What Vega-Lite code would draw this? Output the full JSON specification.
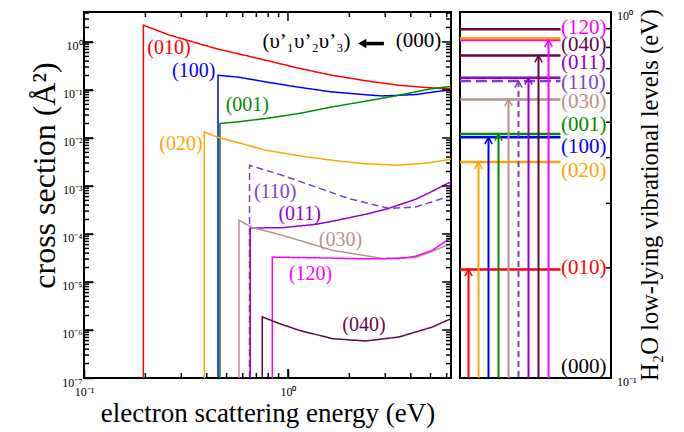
{
  "$schema": "https://vega.github.io/schema/vega-lite/v6.json",
  "background": "white",
  "padding": {"left": 27, "top": 8, "right": 5, "bottom": 5},
  "spacing": 2,
  "config": {
    "font": "Liberation Serif",
    "view": {"stroke": "black", "strokeWidth": 2},
    "axis": {"domain": false, "grid": false, "labelColor": "black", "titleColor": "black", "labelFont": "Liberation Serif", "titleFont": "Liberation Serif", "titleFontWeight": "normal", "labelFlush": false, "labelOverlap": false, "labelBound": false}
  },
  "datasets": {
    "curves": [
      {"series": "(010)", "i": 0, "E": 0.1955, "cs": 1e-7},
      {"series": "(010)", "i": 1, "E": 0.1955, "cs": 2.23},
      {"series": "(010)", "i": 2, "E": 0.261, "cs": 1.4},
      {"series": "(010)", "i": 3, "E": 0.442, "cs": 0.729},
      {"series": "(010)", "i": 4, "E": 0.778, "cs": 0.416},
      {"series": "(010)", "i": 5, "E": 1.133, "cs": 0.283},
      {"series": "(010)", "i": 6, "E": 1.643, "cs": 0.202},
      {"series": "(010)", "i": 7, "E": 2.4, "cs": 0.1555},
      {"series": "(010)", "i": 8, "E": 3.5, "cs": 0.125},
      {"series": "(010)", "i": 9, "E": 4.91, "cs": 0.111},
      {"series": "(010)", "i": 10, "E": 6.3, "cs": 0.106},
      {"series": "(100)", "i": 0, "E": 0.454, "cs": 1e-7},
      {"series": "(100)", "i": 1, "E": 0.454, "cs": 0.202},
      {"series": "(100)", "i": 2, "E": 0.575, "cs": 0.184},
      {"series": "(100)", "i": 3, "E": 0.778, "cs": 0.147},
      {"series": "(100)", "i": 4, "E": 1.133, "cs": 0.1138},
      {"series": "(100)", "i": 5, "E": 1.643, "cs": 0.0908},
      {"series": "(100)", "i": 6, "E": 2.4, "cs": 0.0794},
      {"series": "(100)", "i": 7, "E": 2.9, "cs": 0.075},
      {"series": "(100)", "i": 8, "E": 4.23, "cs": 0.08},
      {"series": "(100)", "i": 9, "E": 5.26, "cs": 0.0917},
      {"series": "(100)", "i": 10, "E": 6.3, "cs": 0.101},
      {"series": "(001)", "i": 0, "E": 0.464, "cs": 1e-7},
      {"series": "(001)", "i": 1, "E": 0.464, "cs": 0.02},
      {"series": "(001)", "i": 2, "E": 0.575, "cs": 0.0218},
      {"series": "(001)", "i": 3, "E": 0.778, "cs": 0.0254},
      {"series": "(001)", "i": 4, "E": 1.133, "cs": 0.0323},
      {"series": "(001)", "i": 5, "E": 1.643, "cs": 0.0443},
      {"series": "(001)", "i": 6, "E": 2.4, "cs": 0.0582},
      {"series": "(001)", "i": 7, "E": 3.5, "cs": 0.0776},
      {"series": "(001)", "i": 8, "E": 4.91, "cs": 0.1035},
      {"series": "(001)", "i": 9, "E": 6.3, "cs": 0.119},
      {"series": "(020)", "i": 0, "E": 0.389, "cs": 1e-7},
      {"series": "(020)", "i": 1, "E": 0.389, "cs": 0.0133},
      {"series": "(020)", "i": 2, "E": 0.459, "cs": 0.0101},
      {"series": "(020)", "i": 3, "E": 0.575, "cs": 0.0079},
      {"series": "(020)", "i": 4, "E": 0.778, "cs": 0.00555},
      {"series": "(020)", "i": 5, "E": 1.133, "cs": 0.00426},
      {"series": "(020)", "i": 6, "E": 1.643, "cs": 0.00343},
      {"series": "(020)", "i": 7, "E": 2.4, "cs": 0.0029},
      {"series": "(020)", "i": 8, "E": 3.5, "cs": 0.0027},
      {"series": "(020)", "i": 9, "E": 4.91, "cs": 0.00304},
      {"series": "(020)", "i": 10, "E": 6.3, "cs": 0.0036},
      {"series": "(110)", "i": 0, "E": 0.648, "cs": 1e-7},
      {"series": "(110)", "i": 1, "E": 0.648, "cs": 0.0027},
      {"series": "(110)", "i": 2, "E": 0.937, "cs": 0.00167},
      {"series": "(110)", "i": 3, "E": 1.37, "cs": 0.00095},
      {"series": "(110)", "i": 4, "E": 1.99, "cs": 0.000546},
      {"series": "(110)", "i": 5, "E": 3.13, "cs": 0.000339},
      {"series": "(110)", "i": 6, "E": 4.23, "cs": 0.000365},
      {"series": "(110)", "i": 7, "E": 6.04, "cs": 0.00059},
      {"series": "(110)", "i": 8, "E": 6.3, "cs": 0.000625},
      {"series": "(011)", "i": 0, "E": 0.653, "cs": 1e-7},
      {"series": "(011)", "i": 1, "E": 0.653, "cs": 0.000133},
      {"series": "(011)", "i": 2, "E": 0.937, "cs": 0.000135},
      {"series": "(011)", "i": 3, "E": 1.37, "cs": 0.000159},
      {"series": "(011)", "i": 4, "E": 1.65, "cs": 0.000184},
      {"series": "(011)", "i": 5, "E": 2.4, "cs": 0.000257},
      {"series": "(011)", "i": 6, "E": 3.13, "cs": 0.000343},
      {"series": "(011)", "i": 7, "E": 4.23, "cs": 0.000528},
      {"series": "(011)", "i": 8, "E": 5.1, "cs": 0.000776},
      {"series": "(011)", "i": 9, "E": 6.04, "cs": 0.00112},
      {"series": "(011)", "i": 10, "E": 6.3, "cs": 0.00122},
      {"series": "(030)", "i": 0, "E": 0.575, "cs": 1e-7},
      {"series": "(030)", "i": 1, "E": 0.575, "cs": 0.000193},
      {"series": "(030)", "i": 2, "E": 0.668, "cs": 0.000136},
      {"series": "(030)", "i": 3, "E": 0.937, "cs": 0.000094},
      {"series": "(030)", "i": 4, "E": 1.65, "cs": 0.0000457},
      {"series": "(030)", "i": 5, "E": 2.9, "cs": 0.0000309},
      {"series": "(030)", "i": 6, "E": 4.23, "cs": 0.0000323},
      {"series": "(030)", "i": 7, "E": 6.04, "cs": 0.000058},
      {"series": "(030)", "i": 8, "E": 6.3, "cs": 0.0000625},
      {"series": "(120)", "i": 0, "E": 0.838, "cs": 1e-7},
      {"series": "(120)", "i": 1, "E": 0.838, "cs": 0.000033},
      {"series": "(120)", "i": 2, "E": 1.37, "cs": 0.0000319},
      {"series": "(120)", "i": 3, "E": 2.4, "cs": 0.0000304},
      {"series": "(120)", "i": 4, "E": 3.5, "cs": 0.0000308},
      {"series": "(120)", "i": 5, "E": 4.23, "cs": 0.0000343},
      {"series": "(120)", "i": 6, "E": 5.1, "cs": 0.0000457},
      {"series": "(120)", "i": 7, "E": 6.04, "cs": 0.000074},
      {"series": "(120)", "i": 8, "E": 6.3, "cs": 0.000081},
      {"series": "(040)", "i": 0, "E": 0.748, "cs": 1e-7},
      {"series": "(040)", "i": 1, "E": 0.748, "cs": 0.00000187},
      {"series": "(040)", "i": 2, "E": 0.9, "cs": 0.00000138},
      {"series": "(040)", "i": 3, "E": 1.133, "cs": 0.000000986},
      {"series": "(040)", "i": 4, "E": 1.65, "cs": 0.00000066},
      {"series": "(040)", "i": 5, "E": 2.4, "cs": 0.00000059},
      {"series": "(040)", "i": 6, "E": 3.5, "cs": 0.000000715},
      {"series": "(040)", "i": 7, "E": 5.1, "cs": 0.00000115},
      {"series": "(040)", "i": 8, "E": 6.04, "cs": 0.00000159},
      {"series": "(040)", "i": 9, "E": 6.3, "cs": 0.00000171}
    ],
    "labels": [
      {"series": "(010)", "E": 0.261, "cs": 0.739},
      {"series": "(100)", "E": 0.345, "cs": 0.245},
      {"series": "(001)", "E": 0.632, "cs": 0.048},
      {"series": "(020)", "E": 0.299, "cs": 0.00764},
      {"series": "(110)", "E": 0.866, "cs": 0.00075},
      {"series": "(011)", "E": 1.142, "cs": 0.000266},
      {"series": "(030)", "E": 1.81, "cs": 0.000074},
      {"series": "(120)", "E": 1.29, "cs": 0.0000145},
      {"series": "(040)", "E": 2.36, "cs": 0.00000125}
    ],
    "notes": [
      {"text": "(υ’₁υ’₂υ’₃)", "E": 1.232, "cs": 1.0},
      {"text": "(000)", "E": 4.37, "cs": 1.05}
    ],
    "arrow": [
      {"head": 2.313, "tail": 2.955, "cs": 0.926}
    ],
    "xticks": [
      {"v": 0.1, "major": true, "ylo": 1e-7, "yhi": 4.2}, {"v": 1, "major": true, "ylo": 1e-7, "yhi": 4.2},
      {"v": 0.2, "major": false, "ylo": 1e-7, "yhi": 4.2}, {"v": 0.3, "major": false, "ylo": 1e-7, "yhi": 4.2},
      {"v": 0.4, "major": false, "ylo": 1e-7, "yhi": 4.2}, {"v": 0.5, "major": false, "ylo": 1e-7, "yhi": 4.2},
      {"v": 0.6, "major": false, "ylo": 1e-7, "yhi": 4.2}, {"v": 0.7, "major": false, "ylo": 1e-7, "yhi": 4.2},
      {"v": 0.8, "major": false, "ylo": 1e-7, "yhi": 4.2}, {"v": 0.9, "major": false, "ylo": 1e-7, "yhi": 4.2},
      {"v": 2, "major": false, "ylo": 1e-7, "yhi": 4.2}, {"v": 3, "major": false, "ylo": 1e-7, "yhi": 4.2},
      {"v": 4, "major": false, "ylo": 1e-7, "yhi": 4.2}, {"v": 5, "major": false, "ylo": 1e-7, "yhi": 4.2},
      {"v": 6, "major": false, "ylo": 1e-7, "yhi": 4.2}
    ],
    "yticks": [
      {"v": 1e-7, "major": true, "xlo": 0.1, "xhi": 6.3}, {"v": 1e-6, "major": true, "xlo": 0.1, "xhi": 6.3},
      {"v": 1e-5, "major": true, "xlo": 0.1, "xhi": 6.3}, {"v": 1e-4, "major": true, "xlo": 0.1, "xhi": 6.3},
      {"v": 0.001, "major": true, "xlo": 0.1, "xhi": 6.3}, {"v": 0.01, "major": true, "xlo": 0.1, "xhi": 6.3},
      {"v": 0.1, "major": true, "xlo": 0.1, "xhi": 6.3}, {"v": 1, "major": true, "xlo": 0.1, "xhi": 6.3},
      {"v": 2e-7, "major": false, "xlo": 0.1, "xhi": 6.3}, {"v": 3e-7, "major": false, "xlo": 0.1, "xhi": 6.3}, {"v": 4e-7, "major": false, "xlo": 0.1, "xhi": 6.3}, {"v": 5e-7, "major": false, "xlo": 0.1, "xhi": 6.3},
      {"v": 6e-7, "major": false, "xlo": 0.1, "xhi": 6.3}, {"v": 7e-7, "major": false, "xlo": 0.1, "xhi": 6.3}, {"v": 8e-7, "major": false, "xlo": 0.1, "xhi": 6.3}, {"v": 9e-7, "major": false, "xlo": 0.1, "xhi": 6.3},
      {"v": 2e-6, "major": false, "xlo": 0.1, "xhi": 6.3}, {"v": 3e-6, "major": false, "xlo": 0.1, "xhi": 6.3}, {"v": 4e-6, "major": false, "xlo": 0.1, "xhi": 6.3}, {"v": 5e-6, "major": false, "xlo": 0.1, "xhi": 6.3},
      {"v": 6e-6, "major": false, "xlo": 0.1, "xhi": 6.3}, {"v": 7e-6, "major": false, "xlo": 0.1, "xhi": 6.3}, {"v": 8e-6, "major": false, "xlo": 0.1, "xhi": 6.3}, {"v": 9e-6, "major": false, "xlo": 0.1, "xhi": 6.3},
      {"v": 2e-5, "major": false, "xlo": 0.1, "xhi": 6.3}, {"v": 3e-5, "major": false, "xlo": 0.1, "xhi": 6.3}, {"v": 4e-5, "major": false, "xlo": 0.1, "xhi": 6.3}, {"v": 5e-5, "major": false, "xlo": 0.1, "xhi": 6.3},
      {"v": 6e-5, "major": false, "xlo": 0.1, "xhi": 6.3}, {"v": 7e-5, "major": false, "xlo": 0.1, "xhi": 6.3}, {"v": 8e-5, "major": false, "xlo": 0.1, "xhi": 6.3}, {"v": 9e-5, "major": false, "xlo": 0.1, "xhi": 6.3},
      {"v": 2e-4, "major": false, "xlo": 0.1, "xhi": 6.3}, {"v": 3e-4, "major": false, "xlo": 0.1, "xhi": 6.3}, {"v": 4e-4, "major": false, "xlo": 0.1, "xhi": 6.3}, {"v": 5e-4, "major": false, "xlo": 0.1, "xhi": 6.3},
      {"v": 6e-4, "major": false, "xlo": 0.1, "xhi": 6.3}, {"v": 7e-4, "major": false, "xlo": 0.1, "xhi": 6.3}, {"v": 8e-4, "major": false, "xlo": 0.1, "xhi": 6.3}, {"v": 9e-4, "major": false, "xlo": 0.1, "xhi": 6.3},
      {"v": 0.002, "major": false, "xlo": 0.1, "xhi": 6.3}, {"v": 0.003, "major": false, "xlo": 0.1, "xhi": 6.3}, {"v": 0.004, "major": false, "xlo": 0.1, "xhi": 6.3}, {"v": 0.005, "major": false, "xlo": 0.1, "xhi": 6.3},
      {"v": 0.006, "major": false, "xlo": 0.1, "xhi": 6.3}, {"v": 0.007, "major": false, "xlo": 0.1, "xhi": 6.3}, {"v": 0.008, "major": false, "xlo": 0.1, "xhi": 6.3}, {"v": 0.009, "major": false, "xlo": 0.1, "xhi": 6.3},
      {"v": 0.02, "major": false, "xlo": 0.1, "xhi": 6.3}, {"v": 0.03, "major": false, "xlo": 0.1, "xhi": 6.3}, {"v": 0.04, "major": false, "xlo": 0.1, "xhi": 6.3}, {"v": 0.05, "major": false, "xlo": 0.1, "xhi": 6.3},
      {"v": 0.06, "major": false, "xlo": 0.1, "xhi": 6.3}, {"v": 0.07, "major": false, "xlo": 0.1, "xhi": 6.3}, {"v": 0.08, "major": false, "xlo": 0.1, "xhi": 6.3}, {"v": 0.09, "major": false, "xlo": 0.1, "xhi": 6.3},
      {"v": 0.2, "major": false, "xlo": 0.1, "xhi": 6.3}, {"v": 0.3, "major": false, "xlo": 0.1, "xhi": 6.3}, {"v": 0.4, "major": false, "xlo": 0.1, "xhi": 6.3}, {"v": 0.5, "major": false, "xlo": 0.1, "xhi": 6.3},
      {"v": 0.6, "major": false, "xlo": 0.1, "xhi": 6.3}, {"v": 0.7, "major": false, "xlo": 0.1, "xhi": 6.3}, {"v": 0.8, "major": false, "xlo": 0.1, "xhi": 6.3}, {"v": 0.9, "major": false, "xlo": 0.1, "xhi": 6.3},
      {"v": 2, "major": false, "xlo": 0.1, "xhi": 6.3}, {"v": 3, "major": false, "xlo": 0.1, "xhi": 6.3}, {"v": 4, "major": false, "xlo": 0.1, "xhi": 6.3}
    ],
    "rticks": [
      {"v": 0.1, "label": "10⁻¹"}, {"v": 0.2}, {"v": 0.3}, {"v": 0.4}, {"v": 0.5}, {"v": 0.6}, {"v": 0.7}, {"v": 0.8}, {"v": 0.9}, {"v": 1, "label": "10⁰"}
    ],
    "levels": [
      {"series": "(010)", "eV": 0.198, "slot": 1, "label_eV": 0.1993},
      {"series": "(020)", "eV": 0.389, "slot": 2, "label_eV": 0.368},
      {"series": "(100)", "eV": 0.4546, "slot": 3, "label_eV": 0.4285},
      {"series": "(001)", "eV": 0.464, "slot": 4, "label_eV": 0.4914},
      {"series": "(030)", "eV": 0.577, "slot": 5, "label_eV": 0.5688},
      {"series": "(110)", "eV": 0.648, "slot": 6, "label_eV": 0.639},
      {"series": "(011)", "eV": 0.661, "slot": 7, "label_eV": 0.724},
      {"series": "(040)", "eV": 0.76, "slot": 8, "label_eV": 0.8126},
      {"series": "(120)", "eV": 0.838, "slot": 9, "label_eV": 0.907},
      {"series": "(021)", "eV": 0.848},
      {"series": "(200)", "eV": 0.897},
      {"series": "(000)", "label_eV": 0.1074}
    ],
    "rtitle": [
      {"text": "H₂O low-lying vibrational levels (eV)", "eV": 0.3162}
    ]
  },
  "hconcat": [
    {
      "width": 367,
      "height": 366,
      "resolve": {"axis": {"x": "independent", "y": "independent"}},
      "layer": [
        {
          "data": {"name": "curves"},
          "mark": {"type": "line", "strokeWidth": 1.5, "clip": true},
          "encoding": {
            "x": {"field": "E", "type": "quantitative", "scale": {"type": "log", "domain": [0.1, 6.3], "nice": false},
              "axis": {"orient": "bottom", "values": [0.1, 1], "tickSize": -9, "tickColor": "black", "tickWidth": 1.5, "labelFontSize": 12, "labelPadding": 17,
                "labelExpr": "'10' + (round(log(datum.value)/LN10) == 0 ? '⁰' : '⁻' + ['⁰','¹','²','³','⁴','⁵','⁶','⁷','⁸','⁹'][-round(log(datum.value)/LN10)])",
                "title": "electron scattering energy (eV)", "titleFontSize": 27, "titlePadding": 3}},
            "y": {"field": "cs", "type": "quantitative", "scale": {"type": "log", "domain": [1e-7, 4.2], "nice": false},
              "axis": {"orient": "left", "values": [1e-7, 1e-6, 1e-5, 1e-4, 0.001, 0.01, 0.1, 1], "tickSize": -9, "tickColor": "black", "tickWidth": 1.5, "labelFontSize": 12, "labelPadding": 11, "labelOffset": 4,
                "labelExpr": "'10' + (round(log(datum.value)/LN10) == 0 ? '⁰' : '⁻' + ['⁰','¹','²','³','⁴','⁵','⁶','⁷','⁸','⁹'][-round(log(datum.value)/LN10)])",
                "title": "cross section (Å²)", "titleFontSize": 32, "titlePadding": 0, "titleY": 163}},
            "color": {"field": "series", "type": "nominal", "legend": null,
              "scale": {"domain": ["(010)", "(100)", "(001)", "(020)", "(110)", "(011)", "(030)", "(120)", "(040)", "(021)", "(200)", "(000)"],
                "range": ["#ff0000", "#0000ff", "#008b00", "#ffa500", "#7b3fcb", "#9400d3", "#bc8f8f", "#ff00ff", "#670748", "#ffa500", "#670748", "#000000"]}},
            "order": {"field": "i", "type": "quantitative"},
            "strokeDash": {"condition": {"test": "datum.series === '(110)'", "value": [7, 4]}, "value": [1, 0]}
          }
        },
        {
          "data": {"name": "yticks"},
          "mark": {"type": "point", "shape": "M0,0H2", "filled": false, "color": "black", "strokeWidth": 1.5, "opacity": 1},
          "encoding": {
            "x": {"field": "xlo", "type": "quantitative", "scale": {"type": "log", "domain": [0.1, 6.3], "nice": false}, "axis": null},
            "y": {"field": "v", "type": "quantitative", "scale": {"type": "log", "domain": [1e-7, 4.2], "nice": false}, "axis": null},
            "size": {"condition": {"test": "datum.major", "value": 81}, "value": 25}
          }
        },
        {
          "data": {"name": "yticks"},
          "mark": {"type": "point", "shape": "M0,0H-2", "filled": false, "color": "black", "strokeWidth": 1.5, "opacity": 1},
          "encoding": {
            "x": {"field": "xhi", "type": "quantitative", "scale": {"type": "log", "domain": [0.1, 6.3], "nice": false}, "axis": null},
            "y": {"field": "v", "type": "quantitative", "scale": {"type": "log", "domain": [1e-7, 4.2], "nice": false}, "axis": null},
            "size": {"condition": {"test": "datum.major", "value": 81}, "value": 25}
          }
        },
        {
          "data": {"name": "xticks"},
          "mark": {"type": "point", "shape": "M0,0V-2", "filled": false, "color": "black", "strokeWidth": 1.5, "opacity": 1},
          "encoding": {
            "x": {"field": "v", "type": "quantitative", "scale": {"type": "log", "domain": [0.1, 6.3], "nice": false}, "axis": null},
            "y": {"field": "ylo", "type": "quantitative", "scale": {"type": "log", "domain": [1e-7, 4.2], "nice": false}, "axis": null},
            "size": {"condition": {"test": "datum.major", "value": 81}, "value": 25}
          }
        },
        {
          "data": {"name": "xticks"},
          "mark": {"type": "point", "shape": "M0,0V2", "filled": false, "color": "black", "strokeWidth": 1.5, "opacity": 1},
          "encoding": {
            "x": {"field": "v", "type": "quantitative", "scale": {"type": "log", "domain": [0.1, 6.3], "nice": false}, "axis": null},
            "y": {"field": "yhi", "type": "quantitative", "scale": {"type": "log", "domain": [1e-7, 4.2], "nice": false}, "axis": null},
            "size": {"condition": {"test": "datum.major", "value": 81}, "value": 25}
          }
        },
        {
          "data": {"name": "labels"},
          "mark": {"type": "text", "fontSize": 20, "align": "center", "baseline": "middle"},
          "encoding": {
            "x": {"field": "E", "type": "quantitative", "scale": {"type": "log", "domain": [0.1, 6.3], "nice": false}, "axis": null},
            "y": {"field": "cs", "type": "quantitative", "scale": {"type": "log", "domain": [1e-7, 4.2], "nice": false}, "axis": null},
            "text": {"field": "series"},
            "color": {"field": "series", "type": "nominal", "legend": null,
              "scale": {"domain": ["(010)", "(100)", "(001)", "(020)", "(110)", "(011)", "(030)", "(120)", "(040)", "(021)", "(200)", "(000)"],
                "range": ["#ff0000", "#0000ff", "#008b00", "#ffa500", "#7b3fcb", "#9400d3", "#bc8f8f", "#ff00ff", "#670748", "#ffa500", "#670748", "#000000"]}}
          }
        },
        {
          "data": {"name": "notes"},
          "mark": {"type": "text", "fontSize": 21, "align": "center", "baseline": "middle", "color": "black"},
          "encoding": {
            "x": {"field": "E", "type": "quantitative", "scale": {"type": "log", "domain": [0.1, 6.3], "nice": false}, "axis": null},
            "y": {"field": "cs", "type": "quantitative", "scale": {"type": "log", "domain": [1e-7, 4.2], "nice": false}, "axis": null},
            "text": {"field": "text"}
          }
        },
        {
          "data": {"name": "arrow"},
          "mark": {"type": "rule", "strokeWidth": 3.5, "color": "black"},
          "encoding": {
            "x": {"field": "head", "type": "quantitative", "scale": {"type": "log", "domain": [0.1, 6.3], "nice": false}, "axis": null},
            "x2": {"field": "tail"},
            "y": {"field": "cs", "type": "quantitative", "scale": {"type": "log", "domain": [1e-7, 4.2], "nice": false}, "axis": null}
          }
        },
        {
          "data": {"name": "arrow"},
          "mark": {"type": "point", "shape": "triangle-left", "filled": true, "size": 90, "color": "black", "opacity": 1},
          "encoding": {
            "x": {"field": "head", "type": "quantitative", "scale": {"type": "log", "domain": [0.1, 6.3], "nice": false}, "axis": null},
            "y": {"field": "cs", "type": "quantitative", "scale": {"type": "log", "domain": [1e-7, 4.2], "nice": false}, "axis": null}
          }
        }
      ]
    },
    {
      "width": 151,
      "height": 366,
      "layer": [
        {
          "data": {"name": "levels"},
          "transform": [{"filter": "isValid(datum.eV)"}],
          "mark": {"type": "rule", "strokeWidth": 2.5},
          "encoding": {
            "x": {"datum": 0.15, "type": "quantitative", "scale": {"domain": [0.15, 15.25], "nice": false, "zero": false}, "axis": null},
            "x2": {"datum": 10.2},
            "y": {"field": "eV", "type": "quantitative", "scale": {"type": "log", "domain": [0.1, 1], "nice": false}, "axis": null},
            "color": {"field": "series", "type": "nominal", "legend": null,
              "scale": {"domain": ["(010)", "(100)", "(001)", "(020)", "(110)", "(011)", "(030)", "(120)", "(040)", "(021)", "(200)", "(000)"],
                "range": ["#ff0000", "#0000ff", "#008b00", "#ffa500", "#7b3fcb", "#9400d3", "#bc8f8f", "#ff00ff", "#670748", "#ffa500", "#670748", "#000000"]}},
            "strokeDash": {"condition": {"test": "datum.series === '(110)'", "value": [11, 5]}, "value": [1, 0]}
          }
        },
        {
          "data": {"name": "levels"},
          "transform": [{"filter": "isValid(datum.slot)"}],
          "mark": {"type": "rule", "strokeWidth": 2},
          "encoding": {
            "x": {"field": "slot", "type": "quantitative", "scale": {"domain": [0.15, 15.25], "nice": false, "zero": false}, "axis": null},
            "y": {"field": "eV", "type": "quantitative", "scale": {"type": "log", "domain": [0.1, 1], "nice": false}, "axis": null},
            "y2": {"datum": 0.1},
            "color": {"field": "series", "type": "nominal", "legend": null,
              "scale": {"domain": ["(010)", "(100)", "(001)", "(020)", "(110)", "(011)", "(030)", "(120)", "(040)", "(021)", "(200)", "(000)"],
                "range": ["#ff0000", "#0000ff", "#008b00", "#ffa500", "#7b3fcb", "#9400d3", "#bc8f8f", "#ff00ff", "#670748", "#ffa500", "#670748", "#000000"]}},
            "strokeDash": {"condition": {"test": "datum.series === '(110)'", "value": [6, 4]}, "value": [1, 0]}
          }
        },
        {
          "data": {"name": "levels"},
          "transform": [{"filter": "isValid(datum.slot)"}],
          "mark": {"type": "point", "shape": "M-0.55,1L0,0L0.55,1", "filled": false, "size": 180, "strokeWidth": 1.5, "opacity": 1},
          "encoding": {
            "x": {"field": "slot", "type": "quantitative", "scale": {"domain": [0.15, 15.25], "nice": false, "zero": false}, "axis": null},
            "y": {"field": "eV", "type": "quantitative", "scale": {"type": "log", "domain": [0.1, 1], "nice": false}, "axis": null},
            "color": {"field": "series", "type": "nominal", "legend": null,
              "scale": {"domain": ["(010)", "(100)", "(001)", "(020)", "(110)", "(011)", "(030)", "(120)", "(040)", "(021)", "(200)", "(000)"],
                "range": ["#ff0000", "#0000ff", "#008b00", "#ffa500", "#7b3fcb", "#9400d3", "#bc8f8f", "#ff00ff", "#670748", "#ffa500", "#670748", "#000000"]}}
          }
        },
        {
          "data": {"name": "levels"},
          "transform": [{"filter": "isValid(datum.label_eV)"}],
          "mark": {"type": "text", "fontSize": 21, "align": "left", "baseline": "middle"},
          "encoding": {
            "x": {"datum": 10.25, "type": "quantitative", "scale": {"domain": [0.15, 15.25], "nice": false, "zero": false}, "axis": null},
            "y": {"field": "label_eV", "type": "quantitative", "scale": {"type": "log", "domain": [0.1, 1], "nice": false}, "axis": null},
            "text": {"field": "series"},
            "color": {"field": "series", "type": "nominal", "legend": null,
              "scale": {"domain": ["(010)", "(100)", "(001)", "(020)", "(110)", "(011)", "(030)", "(120)", "(040)", "(021)", "(200)", "(000)"],
                "range": ["#ff0000", "#0000ff", "#008b00", "#ffa500", "#7b3fcb", "#9400d3", "#bc8f8f", "#ff00ff", "#670748", "#ffa500", "#670748", "#000000"]}}
          }
        },
        {
          "data": {"name": "rticks"},
          "mark": {"type": "point", "shape": "M0,0H-2", "filled": false, "color": "black", "strokeWidth": 1.5, "opacity": 1, "size": 25},
          "encoding": {
            "x": {"datum": 15.25, "type": "quantitative", "scale": {"domain": [0.15, 15.25], "nice": false, "zero": false}, "axis": null},
            "y": {"field": "v", "type": "quantitative", "scale": {"type": "log", "domain": [0.1, 1], "nice": false}, "axis": null}
          }
        },
        {
          "data": {"name": "rticks"},
          "transform": [{"filter": "isValid(datum.label)"}],
          "mark": {"type": "text", "fontSize": 12, "align": "left", "baseline": "middle", "dx": 6, "dy": 4, "color": "black"},
          "encoding": {
            "x": {"datum": 15.25, "type": "quantitative", "scale": {"domain": [0.15, 15.25], "nice": false, "zero": false}, "axis": null},
            "y": {"field": "v", "type": "quantitative", "scale": {"type": "log", "domain": [0.1, 1], "nice": false}, "axis": null},
            "text": {"field": "label"}
          }
        },
        {
          "data": {"name": "rtitle"},
          "mark": {"type": "text", "fontSize": 24.5, "angle": 270, "align": "center", "baseline": "top", "dy": 28, "color": "black"},
          "encoding": {
            "x": {"datum": 15.25, "type": "quantitative", "scale": {"domain": [0.15, 15.25], "nice": false, "zero": false}, "axis": null},
            "y": {"field": "eV", "type": "quantitative", "scale": {"type": "log", "domain": [0.1, 1], "nice": false}, "axis": null},
            "text": {"field": "text"}
          }
        }
      ]
    }
  ]
}
